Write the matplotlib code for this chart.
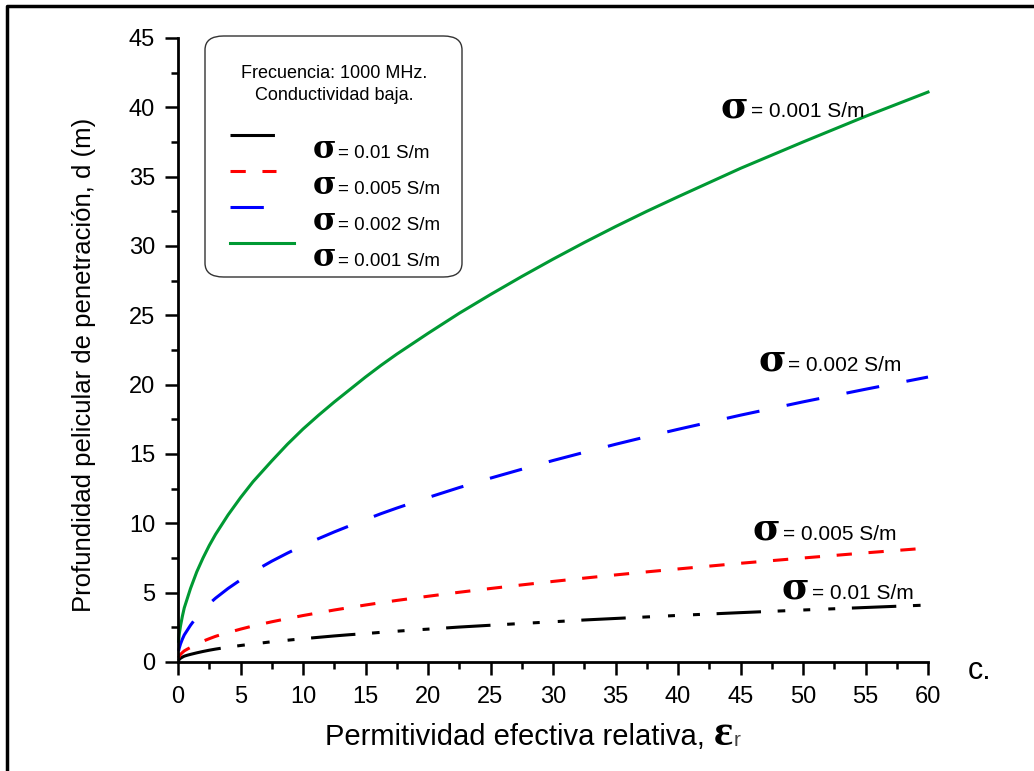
import matplotlib
matplotlib.use('Agg')
import matplotlib.pyplot as plt
from matplotlib.lines import Line2D
from matplotlib.patches import FancyBboxPatch
from matplotlib.ticker import MultipleLocator

# permitividad efectiva relativa
er = [0.05, 0.1, 0.2, 0.35, 0.5, 0.75, 1, 1.5, 2, 2.5, 3, 3.5, 4, 5, 6, 7.5,
      8.75, 10, 11.25, 12.5, 13.75, 15, 16.25, 17.5, 18.75, 20, 22.5, 25,
      27.5, 30, 32.5, 35, 37.5, 40, 45, 50, 55, 60]

# profundidad pelicular d (m) para cada conductividad
d_001 = [1.5, 2.0, 2.6, 3.3, 3.9, 4.6, 5.3, 6.5, 7.5, 8.4, 9.2, 9.9, 10.6,
         11.85, 13.0, 14.5, 15.7, 16.8, 17.8, 18.75, 19.65, 20.55, 21.4,
         22.2, 22.95, 23.7, 25.15, 26.5, 27.8, 29.05, 30.25, 31.4, 32.5,
         33.55, 35.6, 37.5, 39.35, 41.1]
d_002 = [0.8, 1.0, 1.3, 1.65, 1.95, 2.3, 2.65, 3.25, 3.75, 4.2, 4.6, 4.95,
         5.3, 5.92, 6.5, 7.27, 7.85, 8.4, 8.9, 9.38, 9.83, 10.27, 10.7,
         11.1, 11.48, 11.86, 12.58, 13.26, 13.9, 14.53, 15.12, 15.7, 16.25,
         16.78, 17.8, 18.76, 19.67, 20.55]
d_005 = [0.3, 0.4, 0.55, 0.68, 0.8, 0.93, 1.05, 1.3, 1.5, 1.68, 1.85, 1.99,
         2.12, 2.37, 2.6, 2.9, 3.13, 3.35, 3.55, 3.75, 3.93, 4.11, 4.28,
         4.44, 4.59, 4.74, 5.03, 5.3, 5.56, 5.81, 6.05, 6.28, 6.5, 6.71,
         7.12, 7.5, 7.87, 8.22]
d_01 = [0.12, 0.18, 0.27, 0.35, 0.42, 0.49, 0.55, 0.66, 0.76, 0.85, 0.93,
        1.0, 1.07, 1.19, 1.3, 1.46, 1.57, 1.68, 1.78, 1.88, 1.97, 2.05, 2.14,
        2.22, 2.3, 2.37, 2.52, 2.65, 2.78, 2.9, 3.03, 3.14, 3.25, 3.36, 3.56,
        3.75, 3.93, 4.11]

labels = ['= 0.01 S/m', '= 0.005 S/m', '= 0.002 S/m', '= 0.001 S/m']
colors = ['black', '#ff0000', '#0000ff', '#009933']
styles = [(0, (32, 12, 5.5, 13, 5, 13, 5, 12)),
          (0, (11, 12)),
          (0, (24, 20)),
          '-']
series = [d_01, d_005, d_002, d_001]
# where the curve labels sit (data coords, baseline of the sigma)
label_pos = [(48.3, 4.55), (46.0, 8.8), (46.4, 21.0), (43.4, 39.3)]

plt.rcParams['font.family'] = ['Liberation Sans', 'DejaVu Sans']
plt.rcParams['lines.scale_dashes'] = False
SIG_FONT = 'DejaVu Serif'

W, H = 1034, 771
fig = plt.figure(figsize=(W / 100, H / 100), dpi=100)


def px(x, y):
    return x / W, 1 - y / H


ax = fig.add_axes([178 / W, (H - 662) / H, 750 / W, 624 / H])
for s, c, ls in zip(series, colors, styles):
    ax.plot(er, s, color=c, ls=ls, lw=2.2, clip_on=False)

ax.set_xlim(0, 60)
ax.set_ylim(0, 45)
ax.xaxis.set_major_locator(MultipleLocator(5))
ax.xaxis.set_minor_locator(MultipleLocator(2.5))
ax.yaxis.set_major_locator(MultipleLocator(5))
ax.yaxis.set_minor_locator(MultipleLocator(2.5))
for sp in ['top', 'right']:
    ax.spines[sp].set_visible(False)
for sp in ['left', 'bottom']:
    ax.spines[sp].set_linewidth(2)
ax.tick_params(which='major', length=9.5, width=1.8, labelsize=17)
ax.tick_params(which='minor', length=5, width=1.8)
ax.tick_params(axis='y', which='major', pad=7)
ax.tick_params(axis='x', which='major', pad=8)

fig.canvas.draw()
renderer = fig.canvas.get_renderer()


def sigma_text(x, y, rest, big, small):
    t = ax.text(x, y, 'σ', fontsize=big, family=SIG_FONT,
                fontweight='bold', va='baseline')
    w = t.get_window_extent(renderer).width * 72 / fig.dpi
    ax.annotate(rest, xy=(x, y), xycoords='data', xytext=(w + 2, 0),
                textcoords='offset points', fontsize=small, va='baseline')


for (lx, ly), lab in zip(label_pos, labels):
    sigma_text(lx, ly, lab, 27, 15)

# legend box drawn by hand (labels sit below their line samples)
box = FancyBboxPatch(px(205, 277), 257 / W, 241 / H,
                     boxstyle='round,pad=0,rounding_size=0.018',
                     transform=fig.transFigure, fc='white', ec='#333333',
                     lw=1.0, zorder=5)
fig.patches.append(box)
fig.text(*px(334, 73), 'Frecuencia: 1000 MHz.', fontsize=13,
         ha='center', va='center', zorder=6)
fig.text(*px(334, 95), 'Conductividad baja.', fontsize=13,
         ha='center', va='center', zorder=6)
sample_len = [46, 46, 34, 64]
for i, (c, ls, lab) in enumerate(zip(colors, styles, labels)):
    yl = 135 + 36 * i
    x0, y0 = px(230, yl)
    x1, _ = px(230 + sample_len[i], yl)
    fig.add_artist(Line2D([x0, x1], [y0, y0], color=c, ls=ls, lw=2.2,
                          transform=fig.transFigure, zorder=6))
    tx, ty = px(313, yl + 23)
    t = fig.text(tx, ty, 'σ', fontsize=23, family=SIG_FONT,
                 fontweight='bold', va='baseline', zorder=6)
    w = t.get_window_extent(renderer).width / W
    fig.text(tx + w + 2 / W, ty, lab, fontsize=13.5, va='baseline', zorder=6)

# axis titles
fig.text(*px(84, 365), 'Profundidad pelicular de penetración, d (m)',
         rotation=90, fontsize=18.5, ha='center', va='center')
xl = fig.text(*px(325, 745), 'Permitividad efectiva relativa,', fontsize=21,
              va='baseline')
bb = xl.get_window_extent(renderer)
ex = fig.text((bb.x1 + 9) / W, 1 - 745 / H, 'ε', fontsize=32,
              family='Liberation Serif', fontweight='bold', va='baseline')
bb2 = ex.get_window_extent(renderer)
fig.text((bb2.x1 + 1) / W, 1 - 746 / H, 'r', fontsize=15, va='baseline',
         color='#444444')

fig.text(*px(968, 679), 'c.', fontsize=22, va='baseline')

# outer frame (top and left edges only)
fig.add_artist(Line2D([7 / W, 7 / W, 1], [0, 1 - 6 / H, 1 - 6 / H],
                      color='black', lw=2.5, transform=fig.transFigure))

fig.savefig('out.png', dpi=100)
